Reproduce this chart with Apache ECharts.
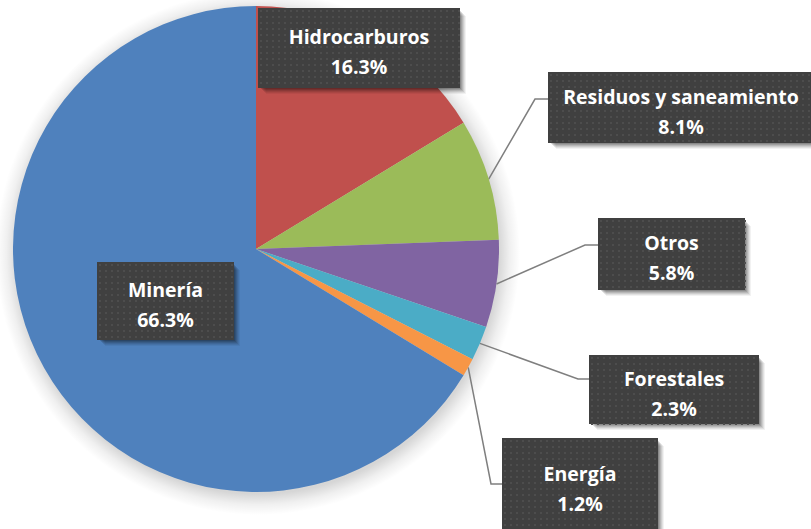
<!DOCTYPE html>
<html><head><meta charset="utf-8">
<script src="https://cdn.jsdelivr.net/npm/echarts@6/dist/echarts.min.js"></script>
<style>html,body{margin:0;padding:0;background:#fff}#c{width:811px;height:529px}</style>
</head><body><div id="c"></div>
<script>
const categories = ['Hidrocarburos','Residuos y saneamiento','Otros','Forestales','Energía','Minería'];
const values = [16.3, 8.1, 5.8, 2.3, 1.2, 66.3];
const colors = ['#C0504D','#9BBB59','#8064A2','#4BACC6','#F79646','#4F81BD'];
// label boxes: [left, top, width, height, showLine, elbowX, lineY]
const boxes = [
  [258, 8, 202, 80, false, 0, 0],
  [548, 72, 266, 71, true, 535, 99],
  [598, 218, 147, 72, true, 585, 245],
  [589, 355, 170, 69, true, 578, 379],
  [502, 438, 156, 94, true, 491, 484],
  [97, 262, 137, 78, false, 0, 0]
];
const SH = 7; // shadow margin baked into label background
function makeBox(w, h) {
  const cv = document.createElement('canvas');
  cv.width = w + SH; cv.height = h + SH;
  const ctx = cv.getContext('2d');
  for (let k = SH; k >= 1; k--) {
    ctx.fillStyle = 'rgba(0,0,0,' + (0.05 + 0.02 * (SH - k)) + ')';
    ctx.fillRect(k + 1, k + 1, w - 2, h - 2);
  }
  ctx.clearRect(0, 0, w, h);
  ctx.fillStyle = '#404040'; ctx.fillRect(0, 0, w, h);
  ctx.fillStyle = '#4d4d4d';
  for (let y = 2; y < h; y += 6) for (let x = 2; x < w; x += 6) ctx.fillRect(x, y, 2, 2);
  return cv.toDataURL();
}
const total = values.reduce((a, b) => a + b, 0);
const chart = echarts.init(document.getElementById('c'), null, {renderer:'svg'});
const data = categories.map((n,i) => ({
  name: n, value: values[i],
  itemStyle: {color: colors[i]},
  label: {
    width: boxes[i][2], height: boxes[i][3] - 4,
    padding: [4, SH, SH, 0],
    backgroundColor: {image: makeBox(boxes[i][2], boxes[i][3])}
  },
  labelLine: {show: boxes[i][4]}
}));
chart.setOption({
  animation: false,
  series: [
    {
      type: 'pie', silent: true, center: [258,253], radius: 262, startAngle: 90, z: 1,
      label: {show: false}, labelLine: {show: false},
      itemStyle: {color: {type: 'radial', x: 0.5, y: 0.5, r: 0.5, colorStops: [
        {offset: 0, color: 'rgba(0,0,0,0.2)'},
        {offset: 0.92, color: 'rgba(0,0,0,0.16)'},
        {offset: 0.96, color: 'rgba(0,0,0,0.06)'},
        {offset: 1, color: 'rgba(0,0,0,0)'}
      ]}},
      data: [{name: 'total', value: total}]
    },
    {
      type: 'pie', center: [256,249], radius: 243, startAngle: 90, z: 2,
      data: data,
      label: {
        show: true, position: 'outside',
        formatter: p => p.name + '\n' + p.value.toFixed(1) + '%',
        color: '#ffffff', fontFamily: 'Open Sans', fontWeight: 'bold', fontSize: 19.5,
        lineHeight: 30, align: 'center', verticalAlign: 'middle'
      },
      labelLine: {show: true, length: 20, length2: 12, lineStyle: {color: '#7f7f7f', width: 1.5}},
      labelLayout: function (params) {
        const b = boxes[params.dataIndex];
        const res = {x: b[0] + (b[2] + SH) / 2, y: b[1] + (b[3] + SH) / 2, align: 'center', verticalAlign: 'middle'};
        if (b[4] && params.labelLinePoints) {
          const p0 = params.labelLinePoints[0];
          res.labelLinePoints = [[p0[0], p0[1]], [b[5], b[6]], [b[0], b[6]]];
        }
        return res;
      }
    }
  ]
});
</script></body></html>
